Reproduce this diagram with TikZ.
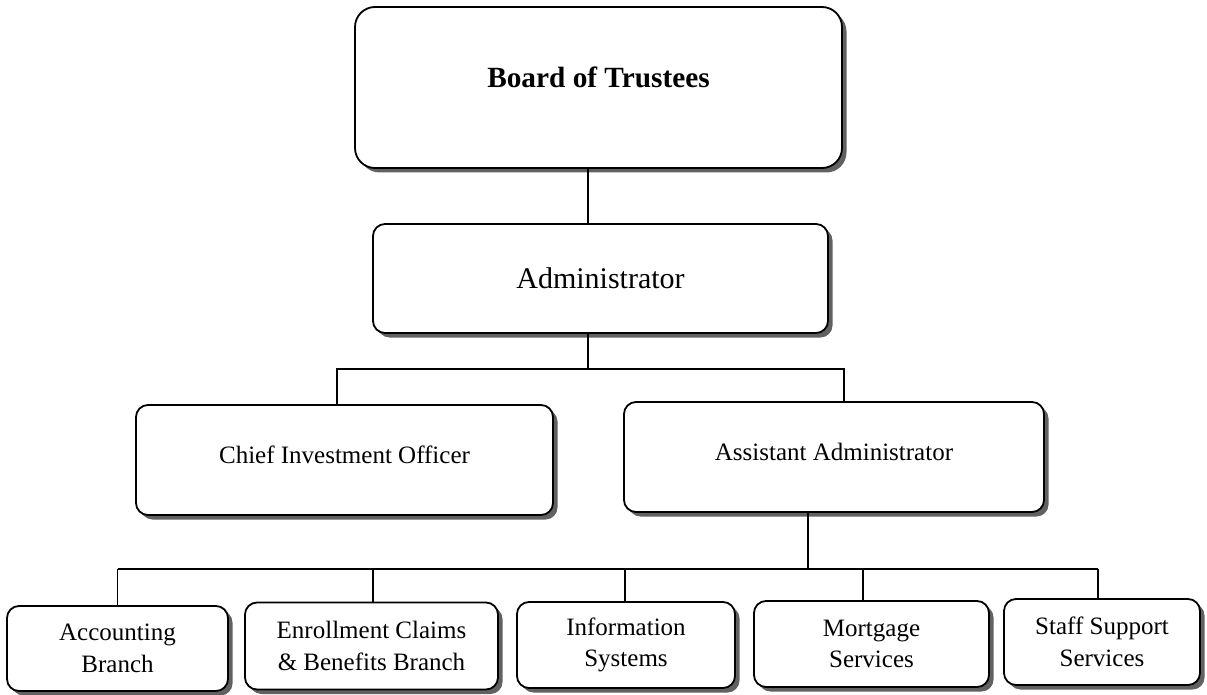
\documentclass[tikz,border=0pt]{standalone}
\usepackage{fontspec}
\setmainfont{Liberation Serif}
\usetikzlibrary{shadows}
\begin{document}
\begin{tikzpicture}[x=1pt,y=1pt]
\tikzset{
  box/.style={draw, line width=1.8pt, rounded corners=12pt, fill=white, align=center, inner sep=0pt,
    drop shadow={shadow xshift=4.5pt, shadow yshift=-4.5pt, fill=black!62, opacity=1}},
  conn/.style={line width=1.3pt},
  midtext/.style={font=\fontsize{25}{31}\selectfont, text height=17pt, text depth=11pt},
  lowtext/.style={font=\fontsize{25}{31.5}\selectfont}
}
\useasboundingbox (0,0) rectangle (1207,-695);

\node[box, rounded corners=20pt, minimum width=487pt, minimum height=161pt,
      font=\fontsize{29.3}{35}\selectfont\bfseries, text height=20pt, text depth=20pt]
      (board) at (598.5,-87.5) {Board of Trustees};
\node[box, minimum width=455pt, minimum height=109pt, font=\fontsize{30}{36}\selectfont]
      (admin) at (600.5,-278.5) {Administrator};
\node[box, midtext, minimum width=417pt, minimum height=110pt] (cio) at (344.5,-460) {Chief Investment Officer};
\node[box, midtext, minimum width=420pt, minimum height=110pt] (asst) at (834,-457) {Assistant Administrator};

\node[box, lowtext, minimum width=221pt, minimum height=85pt] (acc) at (117.5,-648.5) {Accounting\\Branch};
\node[box, lowtext, minimum width=253pt, minimum height=87pt] (enr) at (371.5,-646) {Enrollment Claims\\\& Benefits Branch};
\node[box, lowtext, minimum width=218pt, minimum height=86pt] (info) at (626,-645) {Information\\Systems};
\node[box, lowtext, minimum width=235pt, minimum height=86pt] (mort) at (871.5,-644) {Mortgage\\Services};
\node[box, lowtext, minimum width=196pt, minimum height=86pt] (staff) at (1102,-642) {Staff Support\\Services};

\coordinate (bus1) at (588,-369);
\coordinate (bus2) at (808,-569);

\draw[conn] (board.south -| bus1) -- (admin.north -| bus1);
\draw[conn] (admin.south -| bus1) -- (bus1);
\draw[conn] ([xshift=-7.5pt]cio.north) |- (bus1) -| ([xshift=10pt]asst.north);

\draw[conn] ([xshift=-26pt]asst.south) -- (bus2);
\draw[conn] (acc.north |- bus2) -- ([xshift=-4pt]staff.north |- bus2);
\draw[conn] (acc.north) -- (acc.north |- bus2);
\draw[conn] ([xshift=1.5pt]enr.north) -- ([xshift=1.5pt]enr.north |- bus2);
\draw[conn] ([xshift=-1pt]info.north) -- ([xshift=-1pt]info.north |- bus2);
\draw[conn] ([xshift=-8.5pt]mort.north) -- ([xshift=-8.5pt]mort.north |- bus2);
\draw[conn] ([xshift=-4pt]staff.north) -- ([xshift=-4pt]staff.north |- bus2);
\end{tikzpicture}
\end{document}
